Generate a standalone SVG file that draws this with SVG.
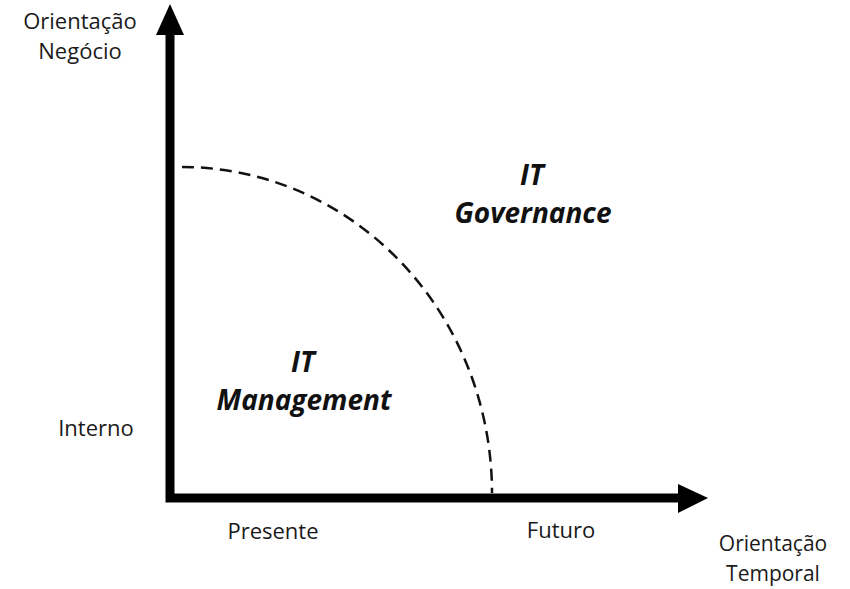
<svg xmlns="http://www.w3.org/2000/svg" width="850" height="589" viewBox="0 0 850 589">
<style>
.lbl{font-family:"Open Sans","Liberation Sans",sans-serif;font-size:22px;fill:#1a1a1a;text-anchor:middle}
.sm{font-size:21px}
.big{font-family:"Open Sans","Liberation Sans",sans-serif;font-size:28px;font-weight:bold;font-style:italic;fill:#111;text-anchor:middle}
.axis{fill:none;stroke:#000;stroke-width:9;stroke-linejoin:miter}
.head{fill:#000}
.arc{fill:none;stroke:#111;stroke-width:2.5;stroke-dasharray:12 7}
</style>
<rect width="850" height="589" fill="#fff"/>
<g id="connectors">
<path class="axis" d="M170 32 V498 H682"/>
<polygon class="head" points="170,4 156,35 184,35"/>
<polygon class="head" points="708,498 678,484 678,513"/>
<path class="arc" d="M182 167 A310 326 0 0 1 492 493"/>
</g>
<g id="y-axis-label"><text class="lbl" x="80" y="29">Orientação</text><text class="lbl" x="80" y="59">Negócio</text></g>
<g id="interno"><text class="lbl" x="96" y="436">Interno</text></g>
<g id="presente"><text class="lbl" x="273" y="539">Presente</text></g>
<g id="futuro"><text class="lbl" x="561" y="538">Futuro</text></g>
<g id="x-axis-label"><text class="lbl sm" x="773" y="551">Orientação</text><text class="lbl sm" x="773" y="581">Temporal</text></g>
<g id="it-governance"><text class="big" x="532" y="185">IT</text><text class="big" x="533" y="223">Governance</text></g>
<g id="it-management"><text class="big" x="303" y="372">IT</text><text class="big" x="304" y="410">Management</text></g>
</svg>
